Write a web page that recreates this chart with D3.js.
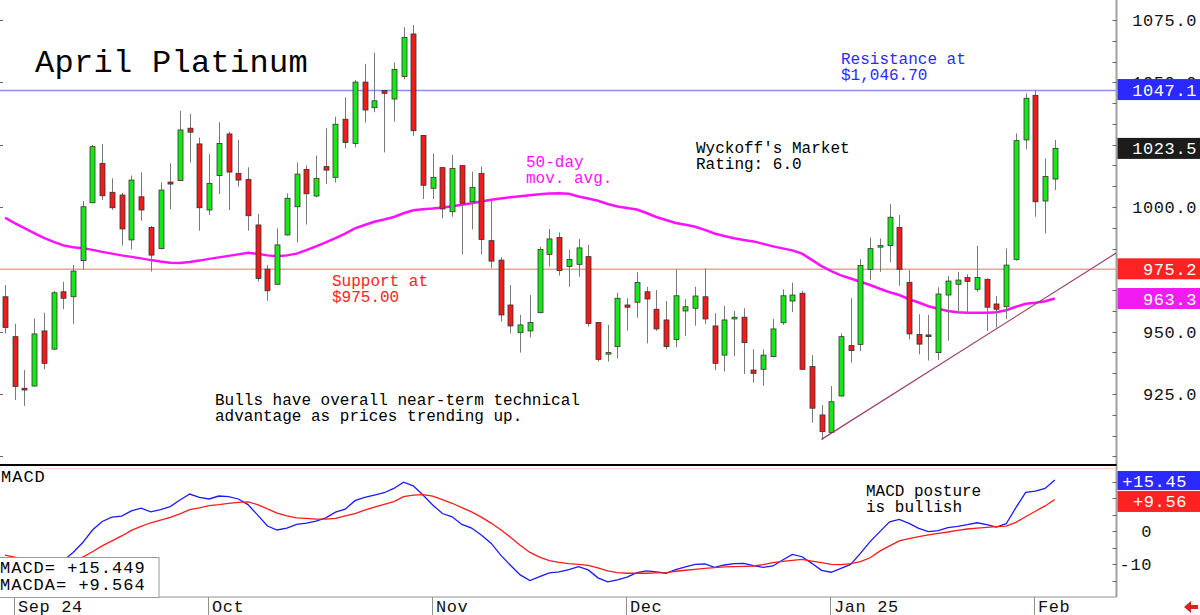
<!DOCTYPE html>
<meta charset="utf-8">
<style>
body { margin: 0; background: #fff; }
svg { display: block; }
text { font-family: "Liberation Mono", "DejaVu Sans Mono", monospace; }
</style>
<svg width="1200" height="615"></svg>
<script src="https://d3js.org/d3.v7.min.js"></script>
<script>

// daily bars, Aug 30 .. Feb 4
var opens = [964.0,948,927.3,928.2,950.3,943,966,964,978.5,1001.7,1017.5,1005.9,1004.8,986.8,1004.1,991.8,983.3,1010,1010.6,1031.6,
  1025.3,998.8,1012.6,1029.3,1013.5,1011.1,992.8,975.1,969,988.8,1000.1,1015.1,1004.4,1016.2,1011.9,1035.2,1025.5,1050.1,1039.8,1046.7,
  1043.3,1052.3,1069.4,1028.7,1007.5,1015.8,998.1,1016.6,1002.1,1013.5,986.5,978.7,960.7,949.6,950.3,957.6,981,987.8,976.1,977,
  980.1,953.7,941.6,944,960.7,961.8,966,959,954.7,946.9,958.3,959.4,964,952.3,940.6,955.1,955.8,934.6,934.9,940,
  953.6,962.3,965.4,936,916.6,909.6,924.2,944.4,944.9,975,984.1,984.5,991.8,969.8,948.9,948.7,941.6,964.7,969,971.7,
  967,971,961.1,960,979,1026.9,1044.8,1002.4,1011.2];
var highs = [968.7,953.1,934.6,955.3,957.6,966.4,970,976.7,1002.4,1024.9,1025.3,1011.5,1005.7,1012.6,1013.9,992.4,1009.9,1017.5,1038.6,1037.3,
  1027.9,1021.3,1034,1030.2,1026.9,1015.9,997.2,976.7,991.4,1005.5,1017.9,1016.7,1020.6,1031.6,1036.2,1044,1050.9,1057.4,1061.9,1046.9,
  1058,1072.1,1073,1028.7,1021.5,1015.8,1020.9,1016.6,1014.2,1016.2,1002.8,979.8,968.7,956.7,964.7,984.1,991.2,989.8,982.8,987.2,
  984.8,953.7,952.7,965.6,963.4,973.8,968,966.7,962.3,975,963,968,975.4,957.4,960.3,958.3,959.4,942.9,942.9,955.1,
  967,969.7,966.4,940.6,920.6,928.2,949.3,963.4,979.1,987.7,987.4,1001.2,996.8,974.7,957,956.7,967.8,972.3,974,973,
  984.4,971.4,964.3,983.4,1029.5,1045.6,1046.9,1019.5,1026.9];
var lows = [949.3,922.6,920.2,928,934.9,942.6,959,953.1,975,1001.5,1002.8,998.8,984.5,983,994.5,974.1,983,999.1,1010.6,1017.8,
  990.5,996.8,1005.2,998.8,1008.2,990.5,970.1,962.4,968.7,988.5,985.8,993,1003.9,1009.2,1009.8,1023.5,1023.9,1033.8,1038,1021.9,
  1034.2,1051.2,1028.5,1003.2,1003.2,995.5,996.1,981,991,981,975.4,954,949.3,941.6,947.7,957.4,976.1,972.5,968,972.1,
  952,938,938,939.3,950.4,955.6,945.3,950.3,942.9,943.7,948.3,952.4,953,934.6,934,940.2,933,929.5,928.3,939.7,
  952.7,957.8,934.6,913.5,906.6,909.2,923.9,937.6,942.2,970.7,974,977.8,968.4,946.9,940.9,938.4,938.6,946.4,957.4,957.4,
  966,950.3,951.7,955,978.5,1023.1,996.1,989.4,1006.8];
var closes = [951.7,928,926.6,949.1,937.3,965.6,963.4,974.3,1000.1,1024.2,1004.5,999.7,991.2,1010.8,998.8,980.7,1006.8,1009.2,1030.9,1030,
  999.7,1009.5,1025.5,1014,1010.8,996.5,971.3,966.4,984.8,1003.5,1013.2,1005.3,1011.5,1014.8,1033.2,1025.9,1050.1,1038.9,1042.6,1045.6,
  1055.2,1068,1030.6,1008.7,1011.9,999.2,1015.5,1001.5,1007.9,987,978.3,956.7,952.3,952.7,953.7,983,987.2,974.5,979,983.6,
  953.3,938.9,941.6,963.4,959.8,969.7,963.1,951.1,944,964.4,960,964.3,955.1,937.3,954.7,955.8,945.6,933.3,940.6,951.1,
  964.4,964.7,934.9,919.3,909.9,921.9,948,942.4,976.5,983.3,984.5,995.9,975,949.1,945,948,965.1,970.3,970.7,970.1,
  971.7,959.8,959,976.7,1026.6,1043.6,1002.1,1012.2,1023.5];

// 50-day moving average
var ma50 = [995.7,993.5,991.5,989.5,987.6,986.0,984.6,983.9,983.5,982.8,982.0,981.3,980.6,980.0,979.4,978.7,978.1,977.6,977.5,977.9,
  978.5,979.2,979.8,980.4,981.0,981.6,981.2,980.6,980.2,980.6,981.3,982.7,984.2,985.8,987.5,989.3,991.4,992.8,994.1,995.0,
  996.0,997.5,998.7,999.1,999.4,999.8,1000.3,1000.9,1001.5,1002.2,1002.9,1003.4,1003.9,1004.3,1004.7,1005.1,1005.4,1005.5,1005.3,1004.2,
  1003.4,1002.5,1001.2,1000.2,999.6,999.0,997.6,996.0,994.8,993.6,992.9,992.1,990.8,989.4,988.4,987.5,986.8,986.2,985.2,984.2,
  983.4,982.6,981.3,978.8,976.3,974.3,972.6,971.3,970.0,968.7,967.2,965.8,964.7,963.0,961.7,960.2,959.2,958.3,957.8,957.6,
  957.6,957.6,957.8,958.6,960.0,961.2,961.6,962.2,963.3];

// MACD and its average
var macd = [-8.5,-9.5,-10.5,-10.8,-10.5,-10.0,-9.0,-6.5,-3.5,0.3,2.9,4.2,4.5,6.1,6.9,5.8,6.5,7.4,9.4,11.2,
  10.2,9.7,10.6,10.4,9.7,8.0,4.8,1.5,0.3,0.9,2.0,2.4,3.0,4.0,5.7,6.6,9.2,10.2,10.9,11.6,
  12.9,14.8,13.7,10.9,7.9,5.3,4.3,2.0,0.9,-1.2,-3.7,-7.3,-10.4,-13.3,-15.0,-13.8,-12.7,-12.4,-11.7,-10.8,
  -11.8,-14.2,-15.4,-14.8,-14.0,-12.6,-12.1,-12.4,-12.8,-11.7,-10.9,-10.1,-10.0,-11.0,-10.3,-9.9,-9.8,-10.5,-11.0,-10.6,
  -8.8,-7.1,-7.8,-9.8,-11.9,-12.5,-11.3,-10.1,-6.8,-3.2,-0.2,2.8,3.5,2.3,0.8,-0.2,0.1,1.0,1.4,1.9,
  2.5,1.9,1.2,2.2,7.1,11.7,12.1,12.9,15.45];
var macdAvg = [-7.3,-7.9,-8.6,-9.0,-9.2,-9.3,-9.0,-8.6,-7.9,-6.3,-4.5,-3.0,-1.5,0.2,1.4,2.5,3.3,4.1,5.2,6.5,
  7.0,7.7,8.0,8.4,8.7,8.8,8.0,6.7,5.4,4.6,4.0,3.8,3.6,3.6,3.8,4.6,5.3,6.3,7.2,8.1,
  8.9,10.4,10.9,11.0,10.6,9.5,8.4,7.1,5.8,4.2,2.4,0.4,-1.9,-4.3,-6.5,-7.9,-9.0,-9.5,-9.9,-10.1,
  -10.4,-11.2,-12.1,-12.6,-12.8,-12.8,-12.8,-12.7,-12.6,-12.2,-11.9,-11.6,-11.3,-11.1,-10.9,-10.8,-10.7,-10.6,-10.2,-9.6,
  -9.2,-8.9,-8.6,-9.1,-9.6,-10.1,-10.2,-9.9,-9.3,-8.1,-6.1,-4.5,-3.0,-2.3,-1.7,-1.2,-0.7,-0.3,0.2,0.6,
  0.9,1.1,1.3,1.5,2.6,4.3,6.0,7.6,9.56];

var monthIdx = [1, 21, 44, 64, 85, 106];
var monthLabels = ["Sep 24", "Oct", "Nov", "Dec", "Jan 25", "Feb"];
var priceTicks = [925, 950, 975, 1000, 1025, 1050, 1075];
var macdTicks = [-10, 0];
var resistance = 1046.7, support = 975;
var trendLine = [[84, 906.8], [114.3, 981.5]];

var svg = d3.select("svg");
var axisX = 1116.5;

var x = d3.scaleLinear().domain([0, 108]).range([5, 1054.8]);
var y = d3.scaleLinear().domain([925, 1075]).range([394, 20]);
var ym = d3.scaleLinear().domain([-10, 0]).range([564, 531]);

// panel frames
svg.append("line").attr("x1", axisX).attr("x2", axisX).attr("y1", 0).attr("y2", 597)
  .attr("stroke", "#a0a0a0").attr("stroke-width", 2);
svg.append("line").attr("x1", 0).attr("x2", axisX).attr("y1", 465).attr("y2", 465)
  .attr("stroke", "#000").attr("stroke-width", 2);
svg.append("line").attr("x1", 40).attr("x2", axisX - 1).attr("y1", 468.5).attr("y2", 468.5)
  .attr("stroke", "#f6d0d0").attr("stroke-width", 1);
svg.append("line").attr("x1", 0).attr("x2", axisX).attr("y1", 597).attr("y2", 597)
  .attr("stroke", "#909090").attr("stroke-width", 1);

// price axis ticks
var minor = d3.range(900, 1083, 25 / 3);
svg.selectAll(".minor").data(minor).enter().append("line")
  .attr("x1", axisX - 4).attr("x2", axisX)
  .attr("y1", function(d) { return Math.round(y(d)) + 0.5; })
  .attr("y2", function(d) { return Math.round(y(d)) + 0.5; })
  .attr("stroke", "#666");
svg.selectAll(".ltick").data(priceTicks.concat([900])).enter().append("line")
  .attr("x1", 0).attr("x2", 3)
  .attr("y1", function(d) { return Math.round(y(d)) + 0.5; })
  .attr("y2", function(d) { return Math.round(y(d)) + 0.5; })
  .attr("stroke", "#666");
svg.selectAll(".plabel").data(priceTicks).enter().append("text")
  .attr("x", 1197).attr("y", function(d) { return y(d) + 6; })
  .attr("text-anchor", "end").attr("font-size", 17).attr("letter-spacing", 0.6)
  .attr("fill", "#111")
  .text(function(d) { return d.toFixed(1); });

// macd axis ticks
svg.selectAll(".mtick").data(d3.range(-15, 20, 5)).enter().append("line")
  .attr("x1", axisX - 4).attr("x2", axisX)
  .attr("y1", function(d) { return Math.round(ym(d)) + 0.5; })
  .attr("y2", function(d) { return Math.round(ym(d)) + 0.5; })
  .attr("stroke", "#666");
svg.selectAll(".mlabel").data(macdTicks).enter().append("text")
  .attr("x", 1152).attr("y", function(d) { return ym(d) + 6; })
  .attr("text-anchor", "end").attr("font-size", 17).attr("letter-spacing", 0.6)
  .attr("fill", "#111")
  .text(function(d) { return d; });

// support / resistance
svg.append("line").attr("x1", 0).attr("x2", axisX).attr("y1", y(resistance)).attr("y2", y(resistance))
  .attr("stroke", "#8c8cff").attr("stroke-width", 1.5);
svg.append("line").attr("x1", 0).attr("x2", axisX).attr("y1", y(support)).attr("y2", y(support))
  .attr("stroke", "#ff9a9a").attr("stroke-width", 1.5);

// moving average
var idx = d3.range(closes.length);
svg.append("path").datum(idx)
  .attr("fill", "none").attr("stroke", "#ff10ff").attr("stroke-width", 2.5)
  .attr("d", d3.line().x(function(i) { return x(i); }).y(function(i) { return y(ma50[i]); }));

// candles
var candle = svg.append("g").selectAll("g").data(idx).enter().append("g");
candle.append("line")
  .attr("x1", function(i) { return Math.round(x(i)) + 0.5; })
  .attr("x2", function(i) { return Math.round(x(i)) + 0.5; })
  .attr("y1", function(i) { return y(highs[i]); })
  .attr("y2", function(i) { return y(lows[i]); })
  .attr("stroke", "#7a7a7a");
candle.append("rect")
  .attr("x", function(i) { return Math.round(x(i)) - 2; })
  .attr("width", 5)
  .attr("y", function(i) { return y(Math.max(opens[i], closes[i])); })
  .attr("height", function(i) { return Math.max(1.5, Math.abs(y(opens[i]) - y(closes[i]))); })
  .attr("fill", function(i) { return closes[i] >= opens[i] ? "#16e816" : "#f01c1c"; })
  .attr("stroke", "#333").attr("stroke-width", 0.8);

// trend line
svg.append("line")
  .attr("x1", x(trendLine[0][0])).attr("y1", y(trendLine[0][1]))
  .attr("x2", x(trendLine[1][0])).attr("y2", y(trendLine[1][1]))
  .attr("stroke", "#9a3f6a").attr("stroke-width", 1.2);

// macd lines
svg.append("path").datum(idx)
  .attr("fill", "none").attr("stroke", "#1a1aff").attr("stroke-width", 1.3)
  .attr("d", d3.line().x(function(i) { return x(i); }).y(function(i) { return ym(macd[i]); }));
svg.append("path").datum(idx)
  .attr("fill", "none").attr("stroke", "#ff1a1a").attr("stroke-width", 1.3)
  .attr("d", d3.line().x(function(i) { return x(i); }).y(function(i) { return ym(macdAvg[i]); }));

// value tags on the right
function tag(yy, h, fill, label, right) {
  svg.append("rect").attr("x", axisX + 1).attr("y", yy - h / 2).attr("width", 1200 - axisX).attr("height", h)
    .attr("fill", fill);
  svg.append("text").attr("x", right).attr("y", yy + 6).attr("text-anchor", "end")
    .attr("font-size", 17).attr("letter-spacing", 0.6).attr("fill", "#fff").text(label);
}
tag(y(1047.1), 21, "#2a2aff", "1047.1", 1197);
tag(y(closes[closes.length - 1]), 21, "#1c1c1c", "1023.5", 1197);
tag(y(975.2), 21, "#ff2222", "975.2", 1197);
tag(y(ma50[ma50.length - 1]), 21, "#f21cf2", "963.3", 1197);
tag(ym(15.45) + 0.5, 19, "#2a2aff", "+15.45", 1187);
tag(ym(9.56) + 2, 21, "#ff2222", "+9.56", 1187);

// month axis
svg.selectAll(".mline").data(monthIdx).enter().append("line")
  .attr("x1", function(i) { return Math.round(x(i)) - 0.5; })
  .attr("x2", function(i) { return Math.round(x(i)) - 0.5; })
  .attr("y1", 597).attr("y2", 615).attr("stroke", "#909090");
svg.selectAll(".mtext").data(monthIdx).enter().append("text")
  .attr("x", function(i) { return Math.round(x(i)) + 3; })
  .attr("y", 612).attr("font-size", 17).attr("letter-spacing", 0.6).attr("fill", "#111")
  .text(function(d, k) { return monthLabels[k]; });

// red arrow bottom right
svg.append("path").attr("d", "M1184,607 l7,-6 v4 h7 v4 h-7 v4 z").attr("fill", "#e02020");

// annotations
function note(xx, yy, lines, size, color, spacing) {
  var t = svg.append("text").attr("x", xx).attr("y", yy).attr("font-size", size).attr("fill", color)
    .attr("letter-spacing", spacing || 0);
  lines.forEach(function(s, k) {
    t.append("tspan").attr("x", xx).attr("dy", k ? size : 0).text(s);
  });
}
svg.append("text").attr("x", 35).attr("y", 72).attr("font-size", 32).attr("letter-spacing", 0.3)
  .attr("fill", "#000").text("April Platinum");
note(841, 64, ["Resistance at", "$1,046.70"], 16, "#2a2aff");
note(696, 153, ["Wyckoff's Market", "Rating: 6.0"], 16, "#000");
note(526, 167, ["50-day", "mov. avg."], 16, "#ff10ff");
note(332, 286, ["Support at", "$975.00"], 16, "#ff2222");
note(215, 405, ["Bulls have overall near-term technical", "advantage as prices trending up."], 16, "#000");
note(866, 496, ["MACD posture", "is bullish"], 16, "#000");
svg.append("text").attr("x", 1).attr("y", 482).attr("font-size", 17).attr("letter-spacing", 1)
  .attr("fill", "#000").text("MACD");

// readout box
svg.append("rect").attr("x", -1).attr("y", 557.5).attr("width", 160).attr("height", 40)
  .attr("fill", "#fff").attr("stroke", "#999");
note(0, 573, ["MACD= +15.449", "MACDA= +9.564"], 17, "#000", 1);

</script>
